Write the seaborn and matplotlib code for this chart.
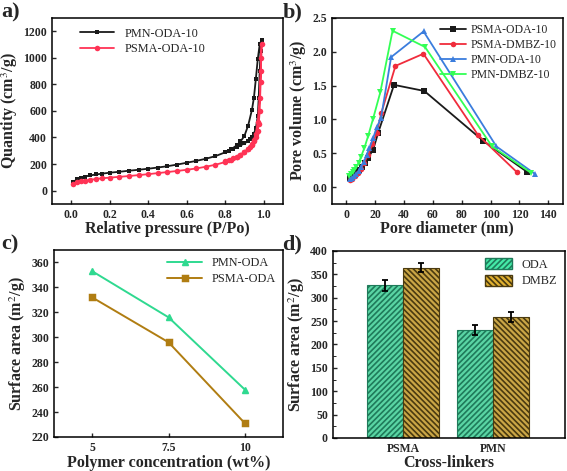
import numpy as np
import pandas as pd
import matplotlib
matplotlib.use('Agg')
import matplotlib.pyplot as plt
from matplotlib.patches import Patch
from matplotlib.ticker import MultipleLocator
import seaborn as sns

# --- a) N2 isotherms (adsorption then desorption) ---
pmn_p = [0.01, 0.03, 0.05, 0.07, 0.1, 0.13, 0.16, 0.2, 0.25, 0.3, 0.35, 0.4, 0.45, 0.5,
         0.55, 0.6, 0.65, 0.7, 0.75, 0.8, 0.83, 0.86, 0.88, 0.9, 0.92, 0.94, 0.95, 0.96,
         0.97, 0.98, 0.99,
         0.985, 0.98, 0.975, 0.97, 0.96, 0.95, 0.94, 0.93, 0.92, 0.9, 0.88, 0.86, 0.84,
         0.82, 0.8]
pmn_q = [65, 85, 97, 106, 115, 122, 128, 135, 142, 150, 157, 165, 174, 184,
         196, 210, 224, 240, 260, 288, 310, 340, 370, 410, 490, 610, 700, 840,
         990, 1100, 1135,
         1050, 900, 700, 560, 470, 430, 400, 385, 372, 355, 340, 325, 312,
         300, 290]
psma_p = [0.01, 0.03, 0.05, 0.07, 0.1, 0.13, 0.16, 0.2, 0.25, 0.3, 0.35, 0.4, 0.45, 0.5,
          0.55, 0.6, 0.65, 0.7, 0.75, 0.8, 0.83, 0.86, 0.88, 0.9, 0.92, 0.94, 0.95, 0.96,
          0.97, 0.98, 0.985, 0.99,
          0.988, 0.985, 0.98, 0.975, 0.97, 0.96, 0.95, 0.94, 0.93, 0.92, 0.9, 0.88, 0.86,
          0.84, 0.82, 0.8]
psma_q = [48, 62, 70, 76, 82, 88, 93, 98, 104, 110, 117, 124, 132, 140,
          148, 157, 167, 180, 195, 215, 232, 252, 270, 290, 315, 350, 380, 430,
          520, 700, 900, 1100,
          1000, 820, 600, 500, 450, 400, 370, 345, 325, 310, 290, 270, 255,
          242, 230, 220]

# --- b) pore size distribution ---
psma_oda_d = [2.5, 4, 5.5, 7, 9, 11, 13, 15, 18.5, 22, 33, 54, 95, 125.5]
psma_oda_v = [0.13, 0.15, 0.17, 0.20, 0.25, 0.30, 0.36, 0.43, 0.55, 0.80, 1.51, 1.42, 0.68, 0.22]
psma_dmbz_d = [2.5, 4, 6, 8, 10, 12, 15, 18, 21, 24.3, 34, 53.4, 91.2, 118.2]
psma_dmbz_v = [0.10, 0.12, 0.16, 0.21, 0.27, 0.35, 0.47, 0.63, 0.80, 1.10, 1.79, 1.97, 0.77, 0.22]
pmn_oda_d = [2.5, 4, 5.5, 7, 8.5, 10, 12, 14, 16, 18.5, 21, 24, 31, 53.5, 104, 131]
pmn_oda_v = [0.12, 0.14, 0.16, 0.19, 0.24, 0.29, 0.37, 0.47, 0.58, 0.72, 0.88, 1.02, 1.92, 2.30, 0.60, 0.19]
pmn_dmbz_d = [2, 3, 4.5, 5.5, 7, 8.5, 10, 12.5, 15, 18.5, 23.5, 32, 54.5, 101, 128]
pmn_dmbz_v = [0.17, 0.19, 0.22, 0.25, 0.30, 0.36, 0.44, 0.58, 0.75, 1.01, 1.40, 2.31, 2.07, 0.60, 0.21]

# --- c) surface area vs concentration ---
conc = ['5', '7.5', '10']
pmn_oda_sa = [353, 316, 258]
psma_oda_sa = [332, 296, 231]

# --- d) surface area vs cross-linker ---
linkers = ['PSMA', 'PMN']
oda_sa = [327, 231]
oda_err = [12, 11]
dmbz_sa = [364, 259]
dmbz_err = [10, 10]

sns.set_style('ticks')
plt.rcParams['font.family'] = ['Liberation Serif', 'DejaVu Serif']
plt.rcParams['mathtext.fontset'] = 'stix'
plt.rcParams['hatch.linewidth'] = 1.2

LAB = dict(fontsize=11.5, fontweight='bold')
LEG = 8.8

fig = plt.figure(figsize=(5.67, 4.71), dpi=100)
ax_a = fig.add_axes([0.0917, 0.567, 0.407, 0.395])
ax_b = fig.add_axes([0.5855, 0.567, 0.407, 0.395])
ax_c = fig.add_axes([0.0952, 0.0722, 0.404, 0.397])
ax_d = fig.add_axes([0.587, 0.0701, 0.409, 0.397])


def style(ax):
    for s in ax.spines.values():
        s.set_linewidth(1.1)
        s.set_color('black')
    ax.tick_params(direction='in', length=3, width=1.0, labelsize=8.5)
    for lab in ax.get_xticklabels() + ax.get_yticklabels():
        lab.set_fontweight('bold')


# a)
sns.lineplot(x=pmn_p, y=pmn_q, ax=ax_a, sort=False, estimator=None, color='#1a1a1a',
             marker='s', markersize=3.5, markeredgewidth=0, linewidth=1.3, label='PMN-ODA-10')
sns.lineplot(x=psma_p, y=psma_q, ax=ax_a, sort=False, estimator=None, color='#ff3355',
             marker='o', markersize=4, markeredgewidth=0, linewidth=1.3, label='PSMA-ODA-10')
ax_a.set_xlim(-0.1, 1.1)
ax_a.set_ylim(-100, 1300)
ax_a.set_xticks(np.arange(0, 1.01, 0.2))
ax_a.set_yticks(np.arange(0, 1201, 200))
ax_a.set_xlabel('Relative pressure (P/Po)', labelpad=0, **LAB)
ax_a.set_ylabel('Quantity (cm$^3$/g)', labelpad=2, **LAB)
ax_a.legend(loc='upper left', frameon=False, fontsize=LEG, handlelength=2.8,
            borderaxespad=0.4, labelspacing=0.3, bbox_to_anchor=(0.08, 1.0))
style(ax_a)

# b)
b_series = [
    ('PSMA-ODA-10', psma_oda_d, psma_oda_v, '#1a1a1a', 's'),
    ('PSMA-DMBZ-10', psma_dmbz_d, psma_dmbz_v, '#f02c3c', 'o'),
    ('PMN-ODA-10', pmn_oda_d, pmn_oda_v, '#3b7ddd', '^'),
    ('PMN-DMBZ-10', pmn_dmbz_d, pmn_dmbz_v, '#33ff55', 'v'),
]
for name, d, v, col, mk in b_series:
    sns.lineplot(x=d, y=v, ax=ax_b, sort=False, estimator=None, color=col, marker=mk,
                 markersize=4, markeredgewidth=0, linewidth=1.3, label=name)
ax_b.set_xlim(-10, 150)
ax_b.set_ylim(-0.25, 2.5)
ax_b.set_xticks(np.arange(0, 141, 20))
ax_b.set_yticks(np.arange(0, 2.51, 0.5))
ax_b.yaxis.set_major_formatter(matplotlib.ticker.FormatStrFormatter('%.1f'))
ax_b.set_xlabel('Pore diameter (nm)', labelpad=0, **LAB)
ax_b.set_ylabel('Pore volume (cm$^3$/g)', labelpad=2, **LAB)
ax_b.legend(loc='upper right', frameon=False, fontsize=8.5, handlelength=2.2,
            handletextpad=0.4, borderaxespad=0.15, labelspacing=0.25)
style(ax_b)

# c)
df_c = pd.DataFrame({
    'conc': conc * 2,
    'sa': pmn_oda_sa + psma_oda_sa,
    'series': ['PMN-ODA'] * 3 + ['PSMA-ODA'] * 3,
})
sns.pointplot(data=df_c, x='conc', y='sa', hue='series', ax=ax_c, errorbar=None,
              palette=['#2fd990', '#b07d12'], markers=['^', 's'], markersize=4,
              linewidth=1.4)
ax_c.set_xlim(-0.5, 2.5)
ax_c.set_ylim(220, 370)
ax_c.set_yticks(np.arange(220, 361, 20))
ax_c.set_xlabel('Polymer concentration (wt%)', labelpad=1, **LAB)
ax_c.set_ylabel('Surface area (m$^2$/g)', labelpad=2, **LAB)
ax_c.legend(loc='upper right', frameon=False, fontsize=LEG, handlelength=2.8,
            borderaxespad=0.2, labelspacing=0.3, title=None)
style(ax_c)

# d)
df_d = pd.DataFrame({
    'linker': linkers * 2,
    'sa': oda_sa + dmbz_sa,
    'agent': ['ODA'] * 2 + ['DMBZ'] * 2,
})
d_face = {'ODA': '#45eaa8', 'DMBZ': '#e0b030'}
d_hatch = {'ODA': '//////', 'DMBZ': '\\\\\\\\\\\\'}
d_edge = {'ODA': '#1f7a5a', 'DMBZ': '#4a3a10'}
sns.barplot(data=df_d, x='linker', y='sa', hue='agent', ax=ax_d, errorbar=None,
            palette=d_face, width=0.8, gap=0, legend=False)
errs = {'ODA': oda_err, 'DMBZ': dmbz_err}
for cont, agent in zip(ax_d.containers, ['ODA', 'DMBZ']):
    xs = []
    ys = []
    for bar in cont:
        bar.set_hatch(d_hatch[agent])
        bar.set_edgecolor(d_edge[agent])
        bar.set_linewidth(0.8)
        xs.append(bar.get_x() + bar.get_width() / 2)
        ys.append(bar.get_height())
    ax_d.errorbar(xs, ys, yerr=errs[agent], fmt='none', ecolor='black',
                  elinewidth=1.3, capsize=2.5, capthick=1.3)
ax_d.set_xlim(-0.78, 1.8)
ax_d.set_ylim(0, 400)
ax_d.set_yticks(np.arange(0, 401, 50))
ax_d.yaxis.set_minor_locator(MultipleLocator(25))
ax_d.tick_params(which='minor', direction='in', length=1.8, width=0.7)
ax_d.set_xlabel('Cross-linkers', labelpad=0, **LAB)
ax_d.set_ylabel('Surface area (m$^2$/g)', labelpad=2, **LAB)
handles = [Patch(facecolor=d_face[a], edgecolor=d_edge[a], hatch=d_hatch[a], label=a)
           for a in ['ODA', 'DMBZ']]
ax_d.legend(handles=handles, loc='upper right', frameon=False, fontsize=LEG,
            handlelength=2.2, handleheight=1.0, borderaxespad=0.2, labelspacing=0.3)
style(ax_d)

# panel labels
for txt, x, y in [('a)', 0.003, 0.995), ('b)', 0.498, 0.995), ('c)', 0.003, 0.503), ('d)', 0.498, 0.503)]:
    fig.text(x, y, txt, fontsize=16, fontweight='bold', ha='left', va='top')

fig.savefig('out.png', dpi=100)
